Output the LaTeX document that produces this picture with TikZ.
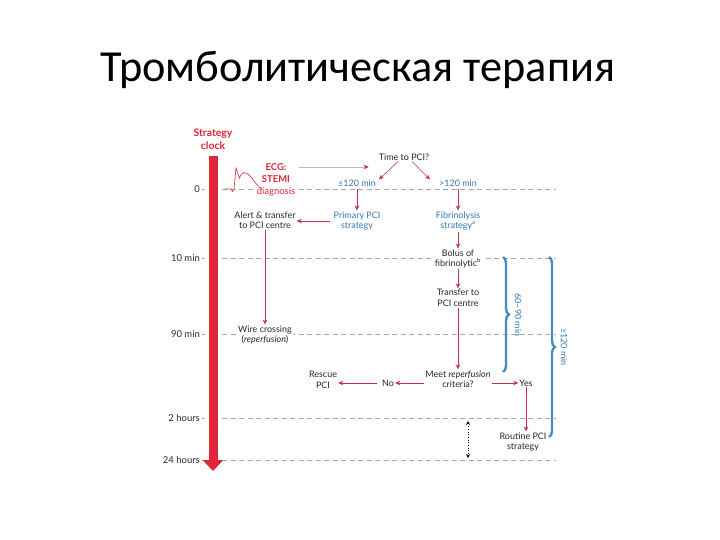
\documentclass[tikz,border=0pt]{standalone}
\usepackage{fontspec}
\setmainfont{Lato}
\newfontfamily\titlefont{Carlito}
\usetikzlibrary{arrows.meta,calc,decorations.pathreplacing}
\definecolor{clockred}{RGB}{222,38,56}
\definecolor{flowred}{RGB}{205,45,70}
\definecolor{flowblue}{RGB}{50,120,180}
\definecolor{bracebl}{RGB}{70,140,195}
\definecolor{inkgray}{RGB}{40,40,40}
\tikzset{
  lbl/.style={align=center,inner sep=1pt,fill=white,text=inkgray,
    font=\fontsize{9}{10.5}\selectfont},
  bluelbl/.style={lbl,text=flowblue},
  flow/.style={-{Stealth[length=5bp,width=4.5bp]},flowred,line width=0.6bp},
  feed/.style={-{Stealth[length=5bp,width=4.5bp,color=flowred]},gray!50,line width=0.6bp},
  timeline/.style={gray!70,dash pattern=on 5bp off 3.5bp,line width=0.6bp},
  ticklbl/.style={anchor=east,inner sep=0pt,text=inkgray,font=\fontsize{9.5}{10}\selectfont},
  span/.style={bracebl,line width=2.4bp,decorate,decoration={brace,amplitude=6bp}},
}

\begin{document}
\begin{tikzpicture}[x=1bp,y=-1bp,>=Stealth]
  \useasboundingbox (0,0) rectangle (720,540);
  % title
  \node[anchor=base,font=\titlefont\fontsize{44.5}{48}\selectfont] (title) at (358,82) {Тромболитическая терапия};

  % time axis
  \foreach \y/\t [count=\i] in {189/0,258/10 min,334/90 min,418/2 hours,460/24 hours}{
    \draw[timeline] (222,\y) -- (556,\y) coordinate (line\i);
    \node[ticklbl] (tick\i) at (200,\y) {\t};
    \draw[gray!70,line width=0.5bp] ($(tick\i.east)+(1.5,0)$) -- ++(3,0);
  }

  % strategy clock
  \node[align=center,inner sep=0pt,text=clockred,font=\bfseries\fontsize{10.5}{13}\selectfont] (clock) at (213,139.5) {Strategy\\clock};
  \draw[clockred,line width=9bp,-{Triangle[length=11bp,width=20bp]}] (213,156) -- (213,471);

  % --- nodes ---
  \node[lbl,text=clockred,font=\fontsize{9.5}{12}\selectfont] (ecg) at (276,180) {\textbf{ECG:}\\\textbf{STEMI}\\diagnosis};
  \node[lbl] (timepci) at (404,157) {Time to PCI?};
  \node[bluelbl,fill=none] (le120) at (357,183) {≤120 min};
  \node[bluelbl,fill=none] (gt120) at (458,183) {>120 min};
  \node[bluelbl] (primary) at (357,221) {Primary PCI\\strategy};
  \node[bluelbl] (fibrino) at (458,221) {Fibrinolysis\\strategy\textsuperscript{a}};
  \node[lbl] (alert) at (265,220.5) {Alert \& transfer\\to PCI centre};
  \node[lbl] (wire) at (265,335) {Wire crossing\\(\textit{reperfusion})};
  \node[lbl] (bolus) at (458,259) {Bolus of\\fibrinolytic\textsuperscript{b}};
  \node[lbl] (transfer) at (458,298) {Transfer to\\PCI centre};
  \node[lbl] (meet) at (458,379) {Meet \textit{reperfusion}\\criteria?};
  \node[lbl] (no) at (388,383) {No};
  \node[lbl] (rescue) at (323,380) {Rescue\\PCI};
  \node[lbl] (yes) at (526,383) {Yes};
  \node[lbl] (routine) at (523,442) {Routine PCI\\strategy};

  % ECG trace
  \draw[clockred,line width=0.6bp] (225,189) -- (231,189) -- (232.5,191.5) -- (234,189) -- (236,168) -- (239.5,178)
    .. controls (242,171) and (246,171) .. (251,177) .. controls (255,182) and (258,187) .. (262,189);

  % --- connectors ---
  \coordinate (ecgout) at (299,167);
  \draw[feed] (ecgout) -- ($(ecgout -| timepci.west)+(-9,0)$);
  \draw[flow] ($(timepci.south)+(-6,0)$) -- ($(le120.north east)+(2,1)$);
  \draw[flow] ($(timepci.south)+(8,0)$) -- ($(gt120.north west)+(-8,1)$);
  \draw[flow,shorten <=2bp] (le120) -- (primary);
  \draw[flow,shorten <=2bp] (gt120) -- (fibrino);
  \draw[flow,shorten <=3bp] (primary.west) -- (primary.west -| alert.east);
  \draw[flow] (alert) -- (wire);
  \draw[flow] (fibrino) -- (bolus);
  \draw[flow] (bolus) -- (transfer);
  \draw[flow] (transfer) -- (meet);
  \draw[flow] (meet.west |- no) -- (no);
  \draw[flow,shorten <=4bp] (no) -- (rescue.east |- no);
  \draw[flow] (meet.east |- yes) -- (yes);
  \draw[flow] (yes) -- (yes |- routine.north);
  \draw[dotted,line width=0.7bp,{Stealth[length=4bp,width=4bp]}-{Stealth[length=4bp,width=4bp]}]
    ($(468,0 |- line4)+(0,3)$) -- ($(468,0 |- line5)+(0,-2)$);

  % --- braces ---
  \draw[span] (503,257) -- (503,372);
  \node[bluelbl,fill=none,rotate=-90] (span1) at (518,315) {60--90 min};
  \draw[span] (549,257) -- (549,437);
  \node[bluelbl,fill=none,rotate=-90] (span2) at (564,347) {≥120 min};
\end{tikzpicture}
\end{document}
